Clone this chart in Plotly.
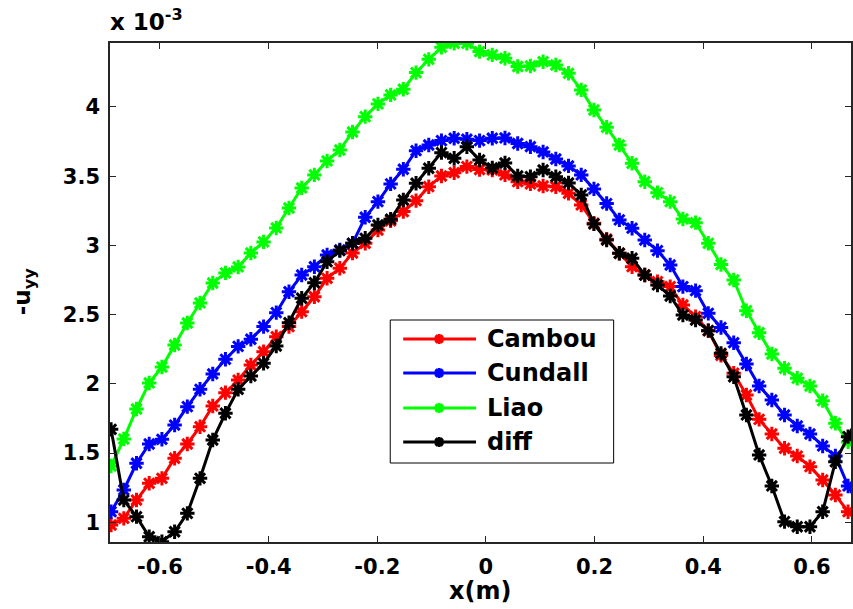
import numpy as np
import plotly.graph_objects as go

# Sample positions along the profile (m)
x_m = np.linspace(-0.69, 0.69, 60)

# -u_yy values, in units of 1e-3
cambou = [0.980, 1.028, 1.160, 1.281, 1.317, 1.462, 1.565, 1.690, 1.840, 1.936,
          2.027, 2.136, 2.232, 2.340, 2.413, 2.521, 2.629, 2.762, 2.835, 2.945,
          3.015, 3.111, 3.178, 3.244, 3.323, 3.424, 3.501, 3.525, 3.569, 3.548,
          3.545, 3.509, 3.460, 3.444, 3.429, 3.424, 3.376, 3.292, 3.160, 3.045,
          2.943, 2.846, 2.786, 2.738, 2.702, 2.569, 2.485, 2.384, 2.205, 2.076,
          1.919, 1.743, 1.637, 1.534, 1.478, 1.401, 1.305, 1.197, 1.076, 0.980]

cundall = [1.076, 1.233, 1.426, 1.565, 1.599, 1.702, 1.835, 1.960, 2.071, 2.177,
           2.270, 2.322, 2.413, 2.514, 2.665, 2.786, 2.846, 2.931, 2.967, 3.015,
           3.203, 3.316, 3.444, 3.550, 3.684, 3.725, 3.757, 3.774, 3.767, 3.757,
           3.774, 3.776, 3.736, 3.713, 3.675, 3.624, 3.574, 3.509, 3.408, 3.302,
           3.184, 3.124, 3.039, 2.962, 2.858, 2.702, 2.673, 2.509, 2.407, 2.297,
           2.143, 1.984, 1.883, 1.775, 1.695, 1.637, 1.551, 1.478, 1.262, 1.100]

liao = [1.406, 1.601, 1.818, 2.006, 2.121, 2.280, 2.439, 2.584, 2.728, 2.801,
        2.844, 2.945, 3.025, 3.126, 3.270, 3.415, 3.509, 3.610, 3.689, 3.819,
        3.930, 4.022, 4.087, 4.128, 4.248, 4.344, 4.431, 4.460, 4.460, 4.400,
        4.376, 4.352, 4.292, 4.296, 4.327, 4.303, 4.243, 4.123, 3.978, 3.853,
        3.725, 3.593, 3.460, 3.381, 3.316, 3.191, 3.164, 3.015, 2.862, 2.750,
        2.528, 2.369, 2.215, 2.112, 2.040, 1.984, 1.878, 1.715, 1.580, 1.500]

diff = [1.671, 1.160, 1.040, 0.895, 0.859, 0.931, 1.064, 1.317, 1.594, 1.787,
        1.960, 2.056, 2.148, 2.273, 2.441, 2.618, 2.730, 2.882, 2.962, 3.015,
        3.051, 3.147, 3.189, 3.328, 3.449, 3.557, 3.670, 3.629, 3.713, 3.617,
        3.559, 3.595, 3.501, 3.496, 3.545, 3.496, 3.451, 3.364, 3.155, 3.039,
        2.943, 2.907, 2.786, 2.714, 2.634, 2.497, 2.461, 2.384, 2.220, 2.051,
        1.775, 1.486, 1.262, 1.004, 0.967, 0.967, 1.076, 1.437, 1.618, 1.800]

series_names = ["Cambou", "Cundall", "Liao", "diff"]
series_values = [cambou, cundall, liao, diff]
series_colors = ["#ff0000", "#0000ff", "#00ff00", "#000000"]

x_ticks = [-0.6, -0.4, -0.2, 0, 0.2, 0.4, 0.6]
x_tick_text = ["-0.6", "-0.4", "-0.2", "0", "0.2", "0.4", "0.6"]
y_ticks = [1, 1.5, 2, 2.5, 3, 3.5, 4]
y_tick_text = ["1", "1.5", "2", "2.5", "3", "3.5", "4"]

W, H = 853, 609
L, R, T, B = 110, 0, 43, 67
FONT = "DejaVu Sans"
AXC = "#262626"
LW = 3
MS = 12


def paper_x(px):
    return (px - L) / (W - L - R)


def paper_y(py):
    return (H - B - py) / (H - T - B)


def bold(size):
    return dict(family=FONT, size=size, color="black", weight="bold")


def star_path(cx, cy, r):
    """Asterisk glyph (paper coordinates) centred on a pixel position."""
    d = r * 0.72
    segs = [((cx - r, cy), (cx + r, cy)),
            ((cx, cy - r), (cx, cy + r)),
            ((cx - d, cy - d), (cx + d, cy + d)),
            ((cx - d, cy + d), (cx + d, cy - d))]
    out = ""
    for (x0, y0), (x1, y1) in segs:
        out += f"M{paper_x(x0):.5f},{paper_y(y0):.5f}L{paper_x(x1):.5f},{paper_y(y1):.5f}"
    return out


fig = go.Figure()

for name, vals, col in zip(series_names, series_values, series_colors):
    fig.add_trace(go.Scatter(
        x=x_m, y=vals, name=name, mode="lines+markers",
        line=dict(color=col, width=LW),
        marker=dict(symbol="asterisk", size=MS, color=col,
                    line=dict(color=col, width=LW)),
        showlegend=False, cliponaxis=True,
    ))

# Legend box with wide line samples
box_left, box_right, box_top, box_bottom = 391, 615, 320, 463
row_y = [339, 373, 408, 442]
fig.add_shape(type="rect", xref="paper", yref="paper",
              x0=paper_x(box_left), x1=paper_x(box_right),
              y0=paper_y(box_top), y1=paper_y(box_bottom),
              line=dict(color="black", width=1), fillcolor="white", layer="above")
for name, col, yy in zip(series_names, series_colors, row_y):
    fig.add_shape(type="line", xref="paper", yref="paper",
                  x0=paper_x(404), x1=paper_x(477), y0=paper_y(yy), y1=paper_y(yy),
                  line=dict(color=col, width=LW), layer="above")
    fig.add_shape(type="path", xref="paper", yref="paper",
                  path=star_path(440, yy, 5),
                  line=dict(color=col, width=LW), layer="above")
    fig.add_annotation(x=paper_x(486), y=paper_y(yy), xref="paper", yref="paper",
                       text=name, showarrow=False, xanchor="left",
                       yanchor="middle", font=bold(24))

fig.add_annotation(x=paper_x(108), y=paper_y(37), xref="paper", yref="paper",
                   text="x 10<sup>-3</sup>", showarrow=False,
                   xanchor="left", yanchor="bottom", font=bold(23))
fig.add_annotation(x=paper_x(24), y=paper_y(292), xref="paper", yref="paper",
                   text="-u<sub>yy</sub>", showarrow=False, textangle=-90,
                   xanchor="center", yanchor="middle", font=bold(23))
fig.add_annotation(x=paper_x(481), y=paper_y(591), xref="paper", yref="paper",
                   text="x(m)", showarrow=False,
                   xanchor="center", yanchor="middle", font=bold(24))

fig.update_layout(
    width=W, height=H,
    margin=dict(l=L, r=R, t=T, b=B, pad=0),
    paper_bgcolor="white", plot_bgcolor="white",
    showlegend=False,
    xaxis=dict(range=[-0.692, 0.672], tickvals=x_ticks, ticktext=x_tick_text,
               ticks="inside", ticklen=6, tickwidth=1, tickcolor=AXC,
               showline=True, linecolor=AXC, linewidth=1.5, mirror="ticks",
               showgrid=False, zeroline=False, tickfont=bold(21),
               ticklabelstandoff=5),
    yaxis=dict(range=[0.857, 4.462], tickvals=y_ticks, ticktext=y_tick_text,
               ticks="inside", ticklen=6, tickwidth=1, tickcolor=AXC,
               showline=True, linecolor=AXC, linewidth=1.5, mirror="ticks",
               showgrid=False, zeroline=False, tickfont=bold(21),
               ticklabelstandoff=4),
)

fig.write_html("out.html")
